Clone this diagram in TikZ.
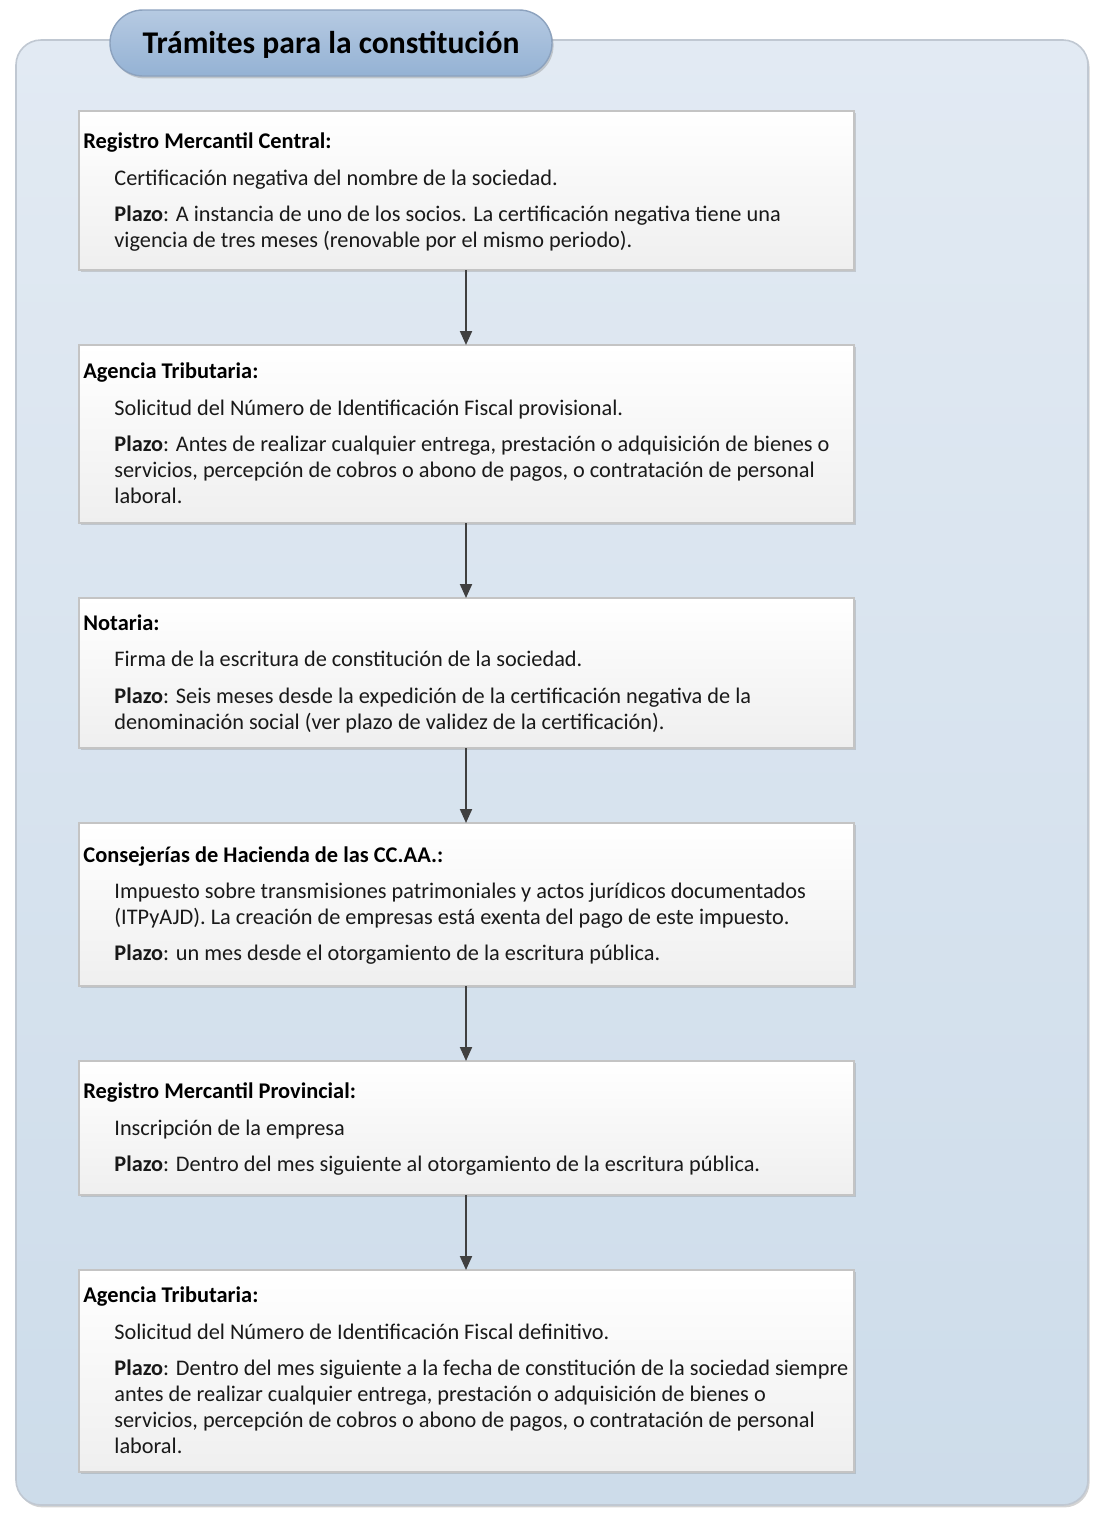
\documentclass[tikz,border=0pt]{standalone}
\usepackage{fontspec}
\setmainfont{Carlito}
\usetikzlibrary{arrows.meta,shadows}
\definecolor{panelTop}{RGB}{226,234,243}
\definecolor{panelBot}{RGB}{205,220,234}
\definecolor{panelLine}{RGB}{192,200,210}
\definecolor{pillTop}{RGB}{182,202,226}
\definecolor{pillBot}{RGB}{148,178,212}
\definecolor{pillLine}{RGB}{140,162,190}
\definecolor{boxBot}{RGB}{239,239,239}
\definecolor{boxLine}{RGB}{196,196,196}
\definecolor{arrowCol}{RGB}{64,64,64}
\definecolor{txtCol}{RGB}{25,25,25}
\begin{document}
\begin{tikzpicture}[x=0.5pt,y=-0.5pt,
  panel/.style={draw=panelLine,line width=0.8pt,rounded corners=12.5pt,top color=panelTop,bottom color=panelBot,
    drop shadow={shadow xshift=0.8pt,shadow yshift=-1.2pt,opacity=0.35,fill=gray}},
  pill/.style={draw=pillLine,line width=0.7pt,rounded corners=16.5pt,top color=pillTop,bottom color=pillBot,
    drop shadow={shadow xshift=0.8pt,shadow yshift=-1.2pt,opacity=0.35,fill=gray}},
  stepbox/.style={draw=boxLine,line width=0.7pt,top color=white,bottom color=boxBot,
    drop shadow={shadow xshift=0.8pt,shadow yshift=-1.0pt,opacity=0.3,fill=gray}},
  txt/.style={anchor=base west,inner sep=0pt,font=\fontsize{11.15pt}{13pt}\selectfont,text=txtCol},
  head/.style={txt,font=\fontsize{11.2pt}{13pt}\selectfont\bfseries,text=black},
  flow/.style={draw=arrowCol,line width=1pt,-{Triangle[length=7pt,width=6pt]}}]
\useasboundingbox (0,0) rectangle (1106,1516);
% outer panel
\path[panel] (16,40) rectangle (1088,1505);
% title
\node[pill,minimum width=221pt,minimum height=33pt,inner sep=0pt] (title) at (331,43) {};
\node[anchor=base,inner sep=0pt,font=\fontsize{15.8pt}{18pt}\selectfont\bfseries] (titletxt) at (331,53) {Trámites para la constitución};
% boxes
\path[stepbox] (79,111) rectangle (854,270) node[midway,inner sep=0pt] (b1) {};
\path[stepbox] (79,345) rectangle (854,523) node[midway,inner sep=0pt] (b2) {};
\path[stepbox] (79,598) rectangle (854,748) node[midway,inner sep=0pt] (b3) {};
\path[stepbox] (79,823) rectangle (854,986) node[midway,inner sep=0pt] (b4) {};
\path[stepbox] (79,1061) rectangle (854,1195) node[midway,inner sep=0pt] (b5) {};
\path[stepbox] (79,1270) rectangle (854,1472) node[midway,inner sep=0pt] (b6) {};
\coordinate (b1s) at (466,270); \coordinate (b2n) at (466,345);
\coordinate (b2s) at (466,523); \coordinate (b3n) at (466,598);
\coordinate (b3s) at (466,748); \coordinate (b4n) at (466,823);
\coordinate (b4s) at (466,986); \coordinate (b5n) at (466,1061);
\coordinate (b5s) at (466,1195); \coordinate (b6n) at (466,1270);
\draw[flow] (b1s) -- (b2n);
\draw[flow] (b2s) -- (b3n);
\draw[flow] (b3s) -- (b4n);
\draw[flow] (b4s) -- (b5n);
\draw[flow] (b5s) -- (b6n);
% box 1
\node[head] (b1h) at (83,148) {Registro Mercantil Central:};
\node[txt] (b1a) at (114,185) {Certificación negativa del nombre de la sociedad.};
\node[txt] (b1b) at (114,221) {\textbf{Plazo}: A instancia de uno de los socios. La certificación negativa tiene una};
\node[txt] (b1c) at (114,247) {vigencia de tres meses (renovable por el mismo periodo).};
% box 2
\node[head] (b2h) at (83,378) {Agencia Tributaria:};
\node[txt] (b2a) at (114,415) {Solicitud del Número de Identificación Fiscal provisional.};
\node[txt] (b2b) at (114,451) {\textbf{Plazo}: Antes de realizar cualquier entrega, prestación o adquisición de bienes o};
\node[txt] (b2c) at (114,477) {servicios, percepción de cobros o abono de pagos, o contratación de personal};
\node[txt] (b2d) at (114,503) {laboral.};
% box 3
\node[head] (b3h) at (83,630) {Notaria:};
\node[txt] (b3a) at (114,666) {Firma de la escritura de constitución de la sociedad.};
\node[txt] (b3b) at (114,703) {\textbf{Plazo}: Seis meses desde la expedición de la certificación negativa de la};
\node[txt] (b3c) at (114,729) {denominación social (ver plazo de validez de la certificación).};
% box 4
\node[head] (b4h) at (83,862) {Consejerías de Hacienda de las CC.AA.:};
\node[txt] (b4a) at (114,898) {Impuesto sobre transmisiones patrimoniales y actos jurídicos documentados};
\node[txt] (b4b) at (114,924) {(ITPyAJD). La creación de empresas está exenta del pago de este impuesto.};
\node[txt] (b4c) at (114,960) {\textbf{Plazo}: un mes desde el otorgamiento de la escritura pública.};
% box 5
\node[head] (b5h) at (83,1098) {Registro Mercantil Provincial:};
\node[txt] (b5a) at (114,1135) {Inscripción de la empresa};
\node[txt] (b5b) at (114,1171) {\textbf{Plazo}: Dentro del mes siguiente al otorgamiento de la escritura pública.};
% box 6
\node[head] (b6h) at (83,1302) {Agencia Tributaria:};
\node[txt] (b6a) at (114,1339) {Solicitud del Número de Identificación Fiscal definitivo.};
\node[txt] (b6b) at (114,1375) {\textbf{Plazo}: Dentro del mes siguiente a la fecha de constitución de la sociedad siempre};
\node[txt] (b6c) at (114,1401) {antes de realizar cualquier entrega, prestación o adquisición de bienes o};
\node[txt] (b6d) at (114,1427) {servicios, percepción de cobros o abono de pagos, o contratación de personal};
\node[txt] (b6e) at (114,1453) {laboral.};
\end{tikzpicture}
\end{document}
